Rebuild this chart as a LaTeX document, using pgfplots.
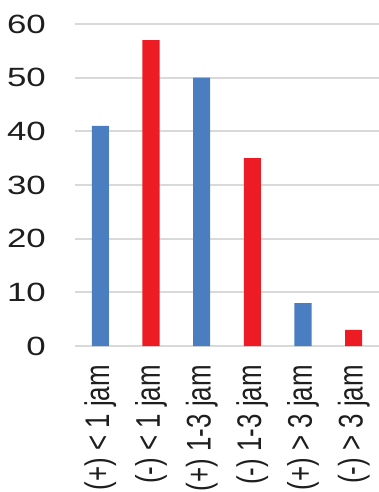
\documentclass[border=0pt]{standalone}
\usepackage{fontspec}
\setmainfont{Liberation Sans}
\usepackage{graphicx}
\usepackage{pgfplots}
\pgfplotsset{compat=1.18}
\definecolor{barblue}{RGB}{74,126,193}
\definecolor{barred}{RGB}{237,28,36}
\definecolor{gridgray}{RGB}{217,217,217}
\definecolor{txt}{RGB}{30,30,30}
\newcommand\sx[1]{\scalebox{1.32}[1]{#1}}
\newcommand\sy[1]{\scalebox{1}[1.32]{#1}}
\begin{document}
\begin{tikzpicture}
\useasboundingbox (-75bp,-146bp) rectangle (304bp,346bp);
\clip (-75bp,-146bp) rectangle (304bp,346bp);
\begin{axis}[
  at={(0bp,0bp)}, anchor=south west,
  scale only axis, width=304bp, height=322bp,
  xmin=-0.5, xmax=5.5, ymin=0, ymax=60,
  ytick={0,10,20,30,40,50,60},
  yticklabels={\sx{0},\sx{10},\sx{20},\sx{30},\sx{40},\sx{50},\sx{60}},
  xtick={0,1,2,3,4,5},
  xticklabels={\sy{(+) < 1 jam},\sy{(-) < 1 jam},\sy{(+) 1-3 jam},\sy{(-) 1-3 jam},\sy{(+) > 3 jam},\sy{(-) > 3 jam}},
  major tick length=0pt,
  axis line style={draw=none},
  ymajorgrids, grid style={gridgray, line width=2bp},
  yticklabel style={anchor=east, inner sep=0pt, text=txt, font=\fontsize{26.5}{30}\selectfont},
  yticklabel shift=29bp,
  xticklabel style={rotate=90, anchor=east, inner sep=0pt, text=txt, font=\fontsize{26}{30}\selectfont},
  xticklabel shift=19bp,
  bar width=17bp,
]
\addplot[ybar, bar shift=0pt, fill=barblue, draw=none] coordinates {(0,41) (2,50) (4,8)};
\addplot[ybar, bar shift=0pt, fill=barred, draw=none] coordinates {(1,57) (3,35) (5,3)};
\end{axis}
\end{tikzpicture}
\end{document}
